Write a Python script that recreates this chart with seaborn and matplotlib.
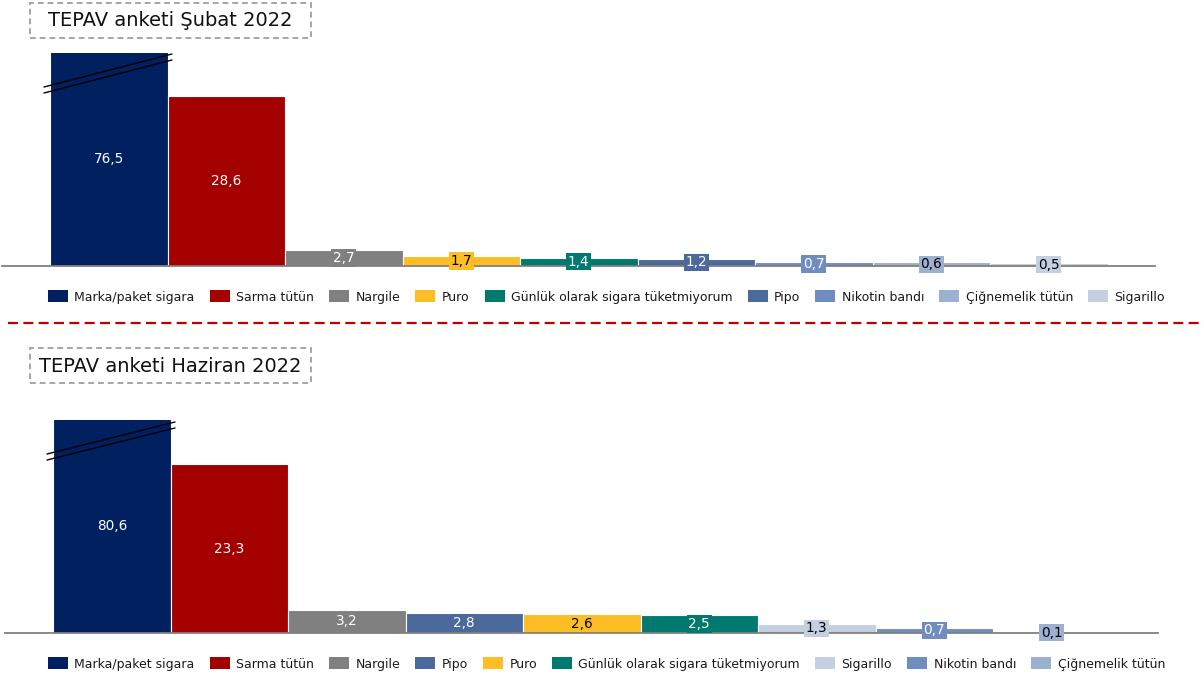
import matplotlib.pyplot as plt
import matplotlib.patches as mpatches
from matplotlib.lines import Line2D
import seaborn as sns

sns.set_theme(style="white")
plt.rcParams["font.family"] = ["DejaVu Sans"]

# ---------------------------------------------------------------- data
cats_feb = ["Marka/paket sigara", "Sarma tütün", "Nargile", "Puro",
            "Günlük olarak sigara tüketmiyorum", "Pipo", "Nikotin bandı",
            "Çiğnemelik tütün", "Sigarillo"]
vals_feb = [76.5, 28.6, 2.7, 1.7, 1.4, 1.2, 0.7, 0.6, 0.5]

cats_jun = ["Marka/paket sigara", "Sarma tütün", "Nargile", "Pipo", "Puro",
            "Günlük olarak sigara tüketmiyorum", "Sigarillo", "Nikotin bandı",
            "Çiğnemelik tütün"]
vals_jun = [80.6, 23.3, 3.2, 2.8, 2.6, 2.5, 1.3, 0.7, 0.1]

COLORS = {
    "Marka/paket sigara": "#002060",
    "Sarma tütün": "#A50000",
    "Nargile": "#808080",
    "Puro": "#FDBE25",
    "Günlük olarak sigara tüketmiyorum": "#007A6E",
    "Pipo": "#4B6A9B",
    "Nikotin bandı": "#6F8DBE",
    "Çiğnemelik tütün": "#9DB0D0",
    "Sigarillo": "#C4CFE2",
}
DARK_TEXT = {"Puro", "Çiğnemelik tütün", "Sigarillo"}

W, H = 1204, 675
fig = plt.figure(figsize=(W / 100, H / 100), dpi=100)


def px_box(x0, y0, x1, y1):
    # pixel box (top-left origin) -> figure fraction rect
    return [x0 / W, 1 - y1 / H, (x1 - x0) / W, (y1 - y0) / H]


def panel(cats, vals, rect, ymax, title_y, brk):
    ax = fig.add_axes(rect)
    sns.barplot(x=cats, y=vals, hue=cats, order=cats, hue_order=cats,
                palette=COLORS, saturation=1, width=1.0, legend=False, ax=ax,
                edgecolor="white", linewidth=0.8)
    ax.set_ylim(0, ymax)
    ax.set_xlim(-0.9085, 8.904)
    ax.set_xticks([])
    ax.set_yticks([])
    ax.set_xlabel("")
    ax.set_ylabel("")
    for s in ["top", "right", "left"]:
        ax.spines[s].set_visible(False)
    ax.spines["bottom"].set_color("#808080")
    ax.spines["bottom"].set_linewidth(1.3)
    ax.patch.set_alpha(0)

    for i, (c, v) in enumerate(zip(cats, vals)):
        y = min(v, ymax) / 2
        ax.text(i, y, f"{v:.1f}".replace(".", ","), ha="center", va="center",
                fontsize=9.8, color="black" if c in DARK_TEXT else "white",
                bbox=dict(boxstyle="square,pad=0.12", fc=COLORS[c], ec="none"),
                zorder=5)

    # broken-axis marks on the first bar
    for dy in (0, 6):
        (x0, y0), (x1, y1) = brk
        fig.add_artist(Line2D([x0 / W, x1 / W], [1 - (y0 + dy) / H, 1 - (y1 + dy) / H],
                              color="black", lw=1.0))

    # title box
    tx0, ty0, tx1, ty1 = title_y
    r = mpatches.Rectangle((tx0 / W, 1 - ty1 / H), (tx1 - tx0) / W, (ty1 - ty0) / H,
                           transform=fig.transFigure, fill=False, ec="#A6A6A6",
                           lw=1.4, ls=(0, (3, 2)))
    fig.add_artist(r)
    return ax


def add_legend(cats, x, y):
    handles = [mpatches.Patch(fc=COLORS[c], ec="none", label=c) for c in cats]
    fig.legend(handles=handles, loc="center left", bbox_to_anchor=(x / W, 1 - y / H),
               ncol=len(cats), frameon=False, fontsize=9, handlelength=1.6,
               handleheight=1.05, handletextpad=0.5, columnspacing=1.22,
               borderpad=0, borderaxespad=0, labelcolor="#1a1a1a")


# ---------------------------------------------------------------- Şubat 2022
panel(cats_feb, vals_feb, px_box(2, 53, 1155, 266), 35.83,
      (30, 3, 311, 38), ((44, 87), (172, 54)))
fig.text(170 / W, 1 - 21 / H, "TEPAV anketi Şubat 2022", ha="center", va="center",
         fontsize=14, color="#111111")
add_legend(cats_feb, 48, 297)

# ---------------------------------------------------------------- Haziran 2022
panel(cats_jun, vals_jun, px_box(5, 420, 1158, 633), 29.37,
      (30, 348, 311, 383), ((47, 454), (175, 422)))
fig.text(170 / W, 1 - 366 / H, "TEPAV anketi Haziran 2022", ha="center", va="center",
         fontsize=14, color="#111111")
add_legend(cats_jun, 48, 664)

# red separator
fig.add_artist(Line2D([8 / W, 1.0], [1 - 323 / H, 1 - 323 / H], color="#C00000",
                      lw=1.6, ls=(0, (4.5, 2.4))))

fig.savefig("out.png", dpi=100)
